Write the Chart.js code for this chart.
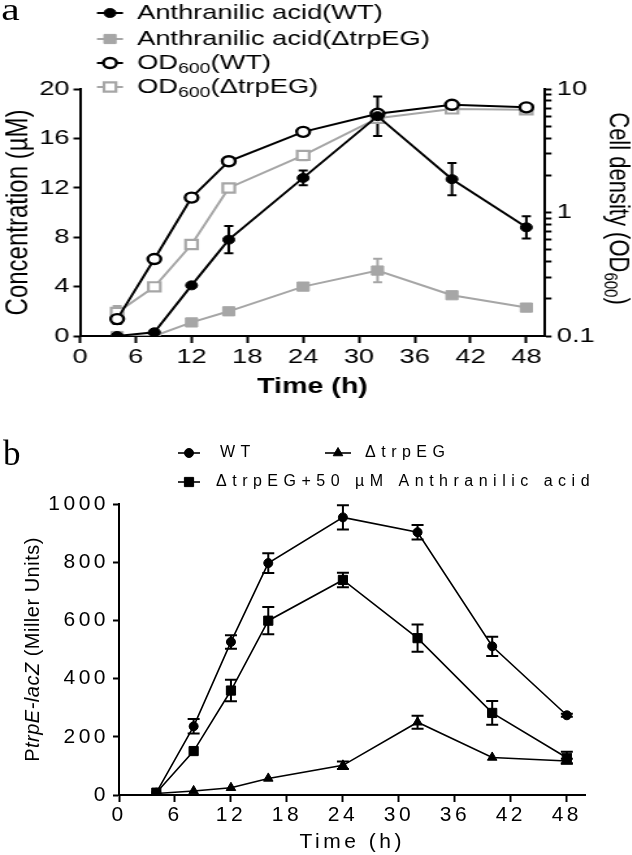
<!DOCTYPE html>
<html>
<head>
<meta charset="utf-8">
<script src="https://cdn.jsdelivr.net/npm/chart.js@4.4.1/dist/chart.umd.min.js"></script>
<style>
    html, body { margin: 0; padding: 0; background: #fff; }
    #page { position: relative; width: 632px; height: 855px; overflow: hidden; }
    /* el panel a de la figura original está estirado en horizontal */
    #panelA { position: absolute; left: 0; top: 0; width: 486px; height: 400px; transform: scaleX(1.3); transform-origin: 0 0; }
    #panelB { position: absolute; left: 0; top: 440px; width: 632px; height: 415px; }
    .tag { position: absolute; font-family: 'Liberation Serif', 'Times New Roman', serif; font-size: 32px; line-height: 32px; color: #000; }
</style>
</head>
<body>
<div id="page">
    <div id="panelA"><canvas id="chartA"></canvas><div class="tag" style="left:1px;top:-7px">a</div></div>
    <div id="panelB"><canvas id="chartB"></canvas><div class="tag" style="left:3px;top:-4px;font-size:35px;line-height:35px">b</div></div>
</div>
<script>
// Tiempos de muestreo (h)
const hours = [4, 8, 12, 16, 24, 32, 40, 48];

// Panel a: ácido antranílico (µM) y densidad celular (OD600)
const aaWT = [0, 0.3, 4.1, 7.8, 12.8, 17.8, 12.7, 8.8];
const aaWTErr = [0, 0, 0, 1.1, 0.6, 1.6, 1.3, 0.9];
const aaTrpEG = [0, 0, 1.1, 2.0, 4.0, 5.3, 3.3, 2.3];
const aaTrpEGErr = [0, 0, 0, 0, 0, 0.95, 0, 0];
const odWT = [0.137, 0.42, 1.32, 2.6, 4.5, 6.3, 7.45, 7.1];
const odWTErr = [0.012, 0, 0, 0.12, 0, 0, 0, 0];
const odTrpEG = [0.155, 0.25, 0.55, 1.58, 2.9, 5.8, 6.9, 6.8];
const odTrpEGErr = [0.02, 0, 0, 0, 0.25, 0, 0, 0];

// Panel b: PtrpE-lacZ (Miller Units)
const millerWT = [8, 236, 526, 797, 954, 903, 511, 274];
const millerWTErr = [0, 25, 23, 34, 42, 25, 33, 5];
const millerTrpEG = [5, 14, 25, 57, 102, 250, 129, 117];
const millerTrpEGErr = [0, 0, 0, 0, 13, 22, 0, 8];
const millerTrpEGAA = [8, 151, 359, 599, 739, 539, 282, 128];
const millerTrpEGAAErr = [0, 0, 37, 47, 25, 47, 41, 21];

// Marcas de los ejes
const timeTicks = [0, 6, 12, 18, 24, 30, 36, 42, 48];
const concTicks = [0, 4, 8, 12, 16, 20];
const odTicks = [0.1, 1, 10];
const odMinorTicks = [0.2, 0.3, 0.4, 0.5, 0.6, 0.7, 0.8, 0.9, 2, 3, 4, 5, 6, 7, 8, 9];
const millerTicks = [0, 200, 400, 600, 800, 1000];

const FONT = "'Liberation Sans', Arial, Helvetica, sans-serif";
const grey = "#a6a6a6";
const black = "#000000";

Chart.defaults.font.family = FONT;
Chart.defaults.color = black;

function toPoints(values) {
    return hours.map((h, i) => ({ x: h, y: values[i] }));
}

// Texto por partes (subíndices y cursiva)
function partFont(part, size) {
    const s = part.sub ? Math.round(size * 0.7) : size;
    return (part.italic ? "italic " : "") + s + "px " + FONT;
}
function measureParts(ctx, parts, size) {
    return parts.reduce((w, p) => {
        ctx.font = partFont(p, size);
        return w + ctx.measureText(p.t).width;
    }, 0);
}
function drawParts(ctx, parts, x, y, size) {
    parts.forEach(p => {
        ctx.font = partFont(p, size);
        ctx.fillText(p.t, x, p.sub ? y + size * 0.28 : y);
        x += ctx.measureText(p.t).width;
    });
}

// Barras de error
const errorBars = {
    id: "errorBars",
    beforeDatasetsDraw(chart, args, opts) {
        const ctx = chart.ctx;
        chart.data.datasets.forEach((ds, i) => {
            if (!ds.errors) return;
            const meta = chart.getDatasetMeta(i);
            const yScale = chart.scales[meta.yAxisID];
            ctx.save();
            ctx.strokeStyle = ds.borderColor;
            ctx.lineWidth = opts.width;
            meta.data.forEach((pt, j) => {
                const err = ds.errors[j];
                if (!err) return;
                const val = ds.data[j].y;
                const yTop = yScale.getPixelForValue(val + err);
                const yBot = yScale.getPixelForValue(val - err);
                ctx.beginPath();
                ctx.moveTo(pt.x, yTop);
                ctx.lineTo(pt.x, yBot);
                ctx.moveTo(pt.x - opts.cap, yTop);
                ctx.lineTo(pt.x + opts.cap, yTop);
                ctx.moveTo(pt.x - opts.cap, yBot);
                ctx.lineTo(pt.x + opts.cap, yBot);
                ctx.stroke();
            });
            ctx.restore();
        });
    }
};

// Leyenda propia (línea + marcador + texto)
const customLegend = {
    id: "customLegend",
    afterDraw(chart, args, opts) {
        const ctx = chart.ctx;
        (opts.items || []).forEach(item => {
            const ds = chart.data.datasets[item.dataset];
            ctx.save();
            ctx.strokeStyle = ds.borderColor;
            ctx.lineWidth = ds.borderWidth;
            ctx.beginPath();
            ctx.moveTo(item.markerX - item.half, item.y);
            ctx.lineTo(item.markerX + item.half, item.y);
            ctx.stroke();
            ctx.fillStyle = ds.pointBackgroundColor;
            ctx.strokeStyle = ds.pointBorderColor;
            ctx.lineWidth = ds.pointBorderWidth;
            Chart.helpers.drawPoint(ctx, {
                pointStyle: ds.pointStyle,
                radius: ds.pointRadius,
                borderWidth: ds.pointBorderWidth,
                rotation: 0
            }, item.markerX, item.y);
            ctx.fillStyle = black;
            ctx.textAlign = "left";
            ctx.textBaseline = "middle";
            ctx.letterSpacing = opts.spacing || "0px";
            drawParts(ctx, item.parts, item.textX, item.y, opts.size);
            ctx.restore();
        });
    }
};

// Títulos de eje con subíndice o cursiva
const sideTitles = {
    id: "sideTitles",
    afterDraw(chart, args, opts) {
        const ctx = chart.ctx;
        const area = chart.chartArea;
        (opts.items || []).forEach(t => {
            ctx.save();
            ctx.fillStyle = black;
            ctx.textAlign = "left";
            ctx.textBaseline = "middle";
            ctx.letterSpacing = t.spacing || "0px";
            ctx.translate(t.x, (area.top + area.bottom) / 2 + (t.dy || 0));
            ctx.rotate(t.rotation);
            const w = measureParts(ctx, t.parts, t.size);
            drawParts(ctx, t.parts, -w / 2, 0, t.size);
            ctx.restore();
        });
    }
};

// Espaciado de letras del panel b
const letterSpacing = {
    id: "letterSpacing",
    beforeLayout(chart, args, opts) { chart.ctx.letterSpacing = opts.value; },
    beforeDraw(chart, args, opts) { chart.ctx.letterSpacing = opts.value; },
    beforeDatasetsDraw(chart, args, opts) { chart.ctx.letterSpacing = opts.value; }
};

function axisStyle(tickLength) {
    return {
        grid: { drawOnChartArea: false, drawTicks: true, tickLength: tickLength, tickWidth: 2, tickColor: black },
        border: { display: true, color: black, width: 2 }
    };
}

// ---------- Panel a ----------
new Chart(document.getElementById("chartA"), {
    type: "line",
    data: {
        datasets: [
            {
                label: "Anthranilic acid(WT)",
                data: toPoints(aaWT),
                errors: aaWTErr,
                yAxisID: "y",
                borderColor: black, borderWidth: 2,
                pointStyle: "circle", pointRadius: 4.5,
                pointBackgroundColor: black, pointBorderColor: black, pointBorderWidth: 1
            },
            {
                label: "OD600(WT)",
                data: toPoints(odWT),
                errors: odWTErr,
                yAxisID: "yOD",
                borderColor: black, borderWidth: 2,
                pointStyle: "circle", pointRadius: 5,
                pointBackgroundColor: "#ffffff", pointBorderColor: black, pointBorderWidth: 2.4
            },
            {
                label: "Anthranilic acid(ΔtrpEG)",
                data: toPoints(aaTrpEG),
                errors: aaTrpEGErr,
                yAxisID: "y",
                borderColor: grey, borderWidth: 2,
                pointStyle: "rect", pointRadius: 6.5,
                pointBackgroundColor: grey, pointBorderColor: grey, pointBorderWidth: 1
            },
            {
                label: "OD600(ΔtrpEG)",
                data: toPoints(odTrpEG),
                errors: odTrpEGErr,
                yAxisID: "yOD",
                borderColor: grey, borderWidth: 2,
                pointStyle: "rect", pointRadius: 6.5,
                pointBackgroundColor: "#ffffff", pointBorderColor: grey, pointBorderWidth: 2.2
            }
        ]
    },
    options: {
        responsive: true,
        maintainAspectRatio: false,
        animation: false,
        events: [],
        layout: { padding: { top: 89, right: 0, bottom: 0, left: 0 } },
        plugins: {
            legend: { display: false },
            tooltip: { enabled: false },
            errorBars: { width: 2, cap: 3.5 },
            customLegend: {
                size: 21,
                items: [
                    { dataset: 0, y: 13, markerX: 84.6, half: 10, textX: 105.4, parts: [{ t: "Anthranilic acid(WT)" }] },
                    { dataset: 2, y: 39, markerX: 84.6, half: 10, textX: 105.4, parts: [{ t: "Anthranilic acid(ΔtrpEG)" }] },
                    { dataset: 1, y: 63, markerX: 84.6, half: 10, textX: 105.4, parts: [{ t: "OD" }, { t: "600", sub: true }, { t: "(WT)" }] },
                    { dataset: 3, y: 87, markerX: 84.6, half: 10, textX: 105.4, parts: [{ t: "OD" }, { t: "600", sub: true }, { t: "(ΔtrpEG)" }] }
                ]
            },
            sideTitles: {
                items: [
                    { x: 475.4, dy: -4, rotation: Math.PI / 2, size: 22, parts: [{ t: "Cell density (OD" }, { t: "600", sub: true }, { t: ")" }] }
                ]
            }
        },
        scales: {
            x: Object.assign(axisStyle(7), {
                type: "linear",
                min: 0,
                max: 50,
                afterBuildTicks: s => { s.ticks = timeTicks.map(v => ({ value: v })); },
                afterFit: s => { s.height = 64; },
                ticks: { font: { size: 21 }, color: black, padding: 2, maxRotation: 0, autoSkip: false },
                title: { display: true, text: "Time (h)", font: { size: 22, weight: "bold" }, color: black, padding: 0 }
            }),
            y: Object.assign(axisStyle(5), {
                type: "linear",
                position: "left",
                min: 0,
                max: 20,
                afterBuildTicks: s => { s.ticks = concTicks.map(v => ({ value: v })); },
                afterFit: s => { s.width = 61.5; },
                ticks: { font: { size: 21 }, color: black, padding: 3, autoSkip: false },
                title: { display: true, text: "Concentration (µM)", font: { size: 24 }, color: black, padding: 0 }
            }),
            yOD: Object.assign(axisStyle(5), {
                type: "logarithmic",
                position: "right",
                min: 0.1,
                max: 10,
                afterBuildTicks: s => {
                    s.ticks = odTicks.concat(odMinorTicks).sort((a, b) => a - b).map(v => ({ value: v }));
                },
                afterFit: s => { s.width = 66.8; },
                ticks: {
                    font: { size: 21 }, color: black, padding: 4, autoSkip: false,
                    callback: v => (odTicks.includes(v) ? String(v) : "")
                }
            })
        }
    },
    plugins: [errorBars, customLegend, sideTitles]
});

// ---------- Panel b ----------
new Chart(document.getElementById("chartB"), {
    type: "line",
    data: {
        datasets: [
            {
                label: "WT",
                data: toPoints(millerWT),
                errors: millerWTErr,
                yAxisID: "y",
                borderColor: black, borderWidth: 1.6,
                pointStyle: "circle", pointRadius: 4.5,
                pointBackgroundColor: black, pointBorderColor: black, pointBorderWidth: 1
            },
            {
                label: "ΔtrpEG",
                data: toPoints(millerTrpEG),
                errors: millerTrpEGErr,
                yAxisID: "y",
                borderColor: black, borderWidth: 1.6,
                pointStyle: "triangle", pointRadius: 5.5,
                pointBackgroundColor: black, pointBorderColor: black, pointBorderWidth: 1
            },
            {
                label: "ΔtrpEG+50 µM Anthranilic acid",
                data: toPoints(millerTrpEGAA),
                errors: millerTrpEGAAErr,
                yAxisID: "y",
                borderColor: black, borderWidth: 1.6,
                pointStyle: "rect", pointRadius: 6.5,
                pointBackgroundColor: black, pointBorderColor: black, pointBorderWidth: 1
            }
        ]
    },
    options: {
        responsive: true,
        maintainAspectRatio: false,
        animation: false,
        events: [],
        layout: { padding: { top: 64, right: 46.5, bottom: 0, left: 0 } },
        plugins: {
            legend: { display: false },
            tooltip: { enabled: false },
            letterSpacing: { value: "3.5px" },
            errorBars: { width: 2, cap: 6 },
            customLegend: {
                size: 16,
                spacing: "5.5px",
                items: [
                    { dataset: 0, y: 13, markerX: 189, half: 11, textX: 220, parts: [{ t: "WT" }] },
                    { dataset: 1, y: 13, markerX: 338, half: 13, textX: 365, parts: [{ t: "ΔtrpEG" }] },
                    { dataset: 2, y: 42, markerX: 189, half: 11, textX: 216, parts: [{ t: "ΔtrpEG+50 µM Anthranilic acid" }] }
                ]
            },
            sideTitles: {
                items: [
                    {
                        x: 33, rotation: -Math.PI / 2, size: 20, spacing: "0.5px",
                        parts: [{ t: "P" }, { t: "trpE-lacZ", italic: true }, { t: " (Miller Units)" }]
                    }
                ]
            }
        },
        scales: {
            x: Object.assign(axisStyle(7), {
                type: "linear",
                min: 0,
                max: 50,
                afterBuildTicks: s => { s.ticks = timeTicks.map(v => ({ value: v })); },
                afterFit: s => { s.height = 60; },
                ticks: { font: { size: 21 }, color: black, padding: 1, maxRotation: 0, autoSkip: false },
                title: { display: true, text: "Time (h)", font: { size: 21 }, color: black, padding: 0 }
            }),
            y: Object.assign(axisStyle(6), {
                type: "linear",
                position: "left",
                min: 0,
                max: 1000,
                afterBuildTicks: s => { s.ticks = millerTicks.map(v => ({ value: v })); },
                afterFit: s => { s.width = 119; },
                ticks: { font: { size: 21 }, color: black, padding: 4, autoSkip: false, callback: v => String(v) }
            })
        }
    },
    plugins: [letterSpacing, errorBars, customLegend, sideTitles]
});
</script>
</body>
</html>
